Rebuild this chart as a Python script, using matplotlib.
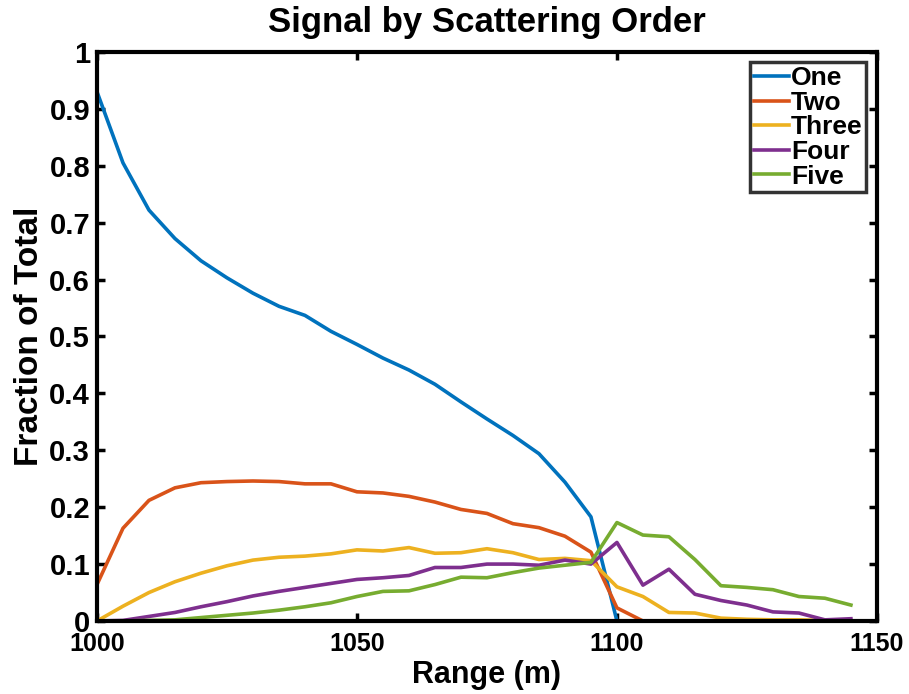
import matplotlib
matplotlib.use("Agg")
import matplotlib.pyplot as plt

ranges = list(range(1000, 1150, 5))
one = [0.930, 0.805, 0.722, 0.672, 0.633, 0.603, 0.576, 0.553, 0.537, 0.509,
       0.486, 0.462, 0.441, 0.416, 0.385, 0.355, 0.326, 0.294, 0.244, 0.183,
       0.0, 0.0, 0.0, 0.0, 0.0, 0.0, 0.0, 0.0, 0.0, 0.0]
two = [0.064, 0.163, 0.212, 0.234, 0.243, 0.245, 0.246, 0.245, 0.241, 0.241,
       0.227, 0.225, 0.219, 0.209, 0.196, 0.189, 0.171, 0.164, 0.149, 0.121,
       0.023, 0.0, 0.0, 0.0, 0.0, 0.0, 0.0, 0.0, 0.0, 0.0]
three = [0.0, 0.026, 0.050, 0.069, 0.084, 0.097, 0.107, 0.112, 0.114, 0.118,
         0.125, 0.123, 0.129, 0.119, 0.120, 0.127, 0.120, 0.108, 0.110, 0.106,
         0.060, 0.043, 0.015, 0.014, 0.005, 0.003, 0.002, 0.002, 0.001, 0.0]
four = [0.0, 0.001, 0.008, 0.015, 0.025, 0.034, 0.044, 0.052, 0.059, 0.066,
        0.073, 0.076, 0.080, 0.094, 0.094, 0.100, 0.100, 0.098, 0.107, 0.100,
        0.138, 0.063, 0.091, 0.047, 0.036, 0.028, 0.016, 0.014, 0.002, 0.004]
five = [0.0, 0.0, 0.001, 0.002, 0.006, 0.010, 0.014, 0.019, 0.025, 0.032,
        0.043, 0.052, 0.053, 0.064, 0.077, 0.076, 0.085, 0.093, 0.098, 0.103,
        0.173, 0.151, 0.148, 0.108, 0.062, 0.059, 0.055, 0.043, 0.040, 0.028]

names = ["One", "Two", "Three", "Four", "Five"]
colors = ["#0072BD", "#D95319", "#EDB120", "#7E2F8E", "#77AC30"]
series = [one, two, three, four, five]

xticks = [1000, 1050, 1100, 1150]
yticks = [0, 0.1, 0.2, 0.3, 0.4, 0.5, 0.6, 0.7, 0.8, 0.9, 1]
yticklabels = ["0", "0.1", "0.2", "0.3", "0.4", "0.5", "0.6", "0.7", "0.8", "0.9", "1"]

plt.rcParams['font.family'] = ['Liberation Sans', 'DejaVu Sans']
plt.rcParams['font.weight'] = 'bold'

fig = plt.figure(figsize=(9.09, 6.94), dpi=100)
ax = fig.add_axes([0.1067, 0.1052, 0.858, 0.820])

for s, n, c in zip(series, names, colors):
    ax.plot(ranges, s, color=c, lw=2.6, label=n)

ax.set_xlim(1000, 1150)
ax.set_ylim(0, 1)
ax.set_xticks(xticks)
ax.set_yticks(yticks)
ax.set_yticklabels(yticklabels)
ax.tick_params(direction='in', length=6, width=2.5, top=True, right=True)
ax.tick_params(axis='y', labelsize=21, pad=5)
ax.tick_params(axis='x', labelsize=18, pad=8)
for lab in ax.get_xticklabels() + ax.get_yticklabels():
    lab.set_fontweight('bold')
for sp in ax.spines.values():
    sp.set_linewidth(3)

ax.set_title("Signal by Scattering Order", fontsize=25, fontweight='bold', pad=14)
ax.set_xlabel("Range (m)", fontsize=22, fontweight='bold', labelpad=3)
ax.set_ylabel("Fraction of Total", fontsize=24, fontweight='bold', labelpad=3)

leg = ax.legend(loc='upper right', fontsize=19, frameon=True, fancybox=False,
                handlelength=1.3, handletextpad=0.08, borderpad=0.15,
                labelspacing=0.02, borderaxespad=0.4)
leg.get_frame().set_edgecolor('black')
leg.get_frame().set_linewidth(2.5)
for t in leg.get_texts():
    t.set_fontweight('bold')

fig.savefig("out.png", dpi=100)
